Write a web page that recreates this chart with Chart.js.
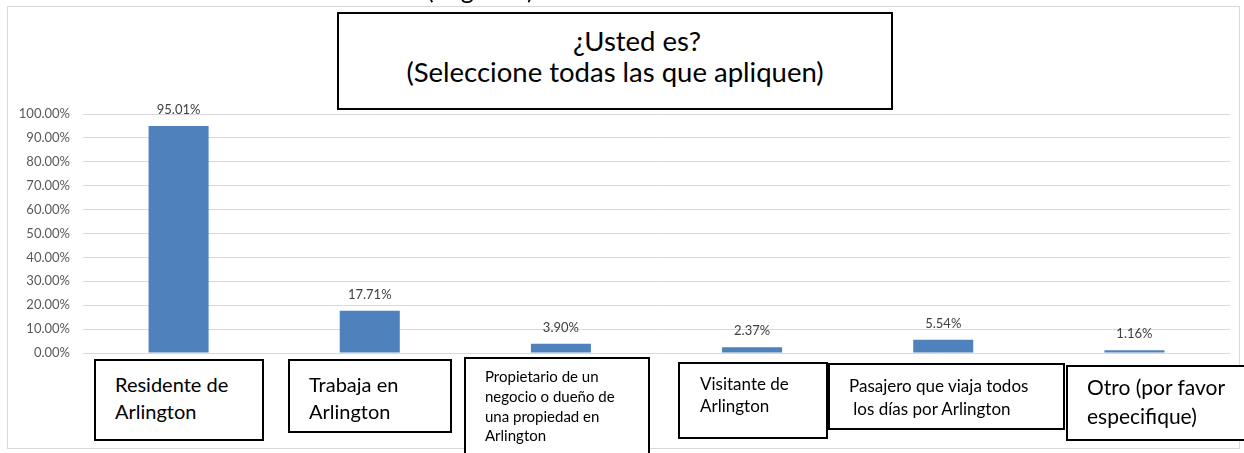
<!DOCTYPE html>
<html>
<head>
<meta charset="utf-8">
<script src="https://cdn.jsdelivr.net/npm/chart.js@4.4.1/dist/chart.umd.min.js"></script>
<style>
    body { margin: 0; background: #ffffff; font-family: Lato, "Liberation Sans", sans-serif; }
    #wrap { position: relative; width: 1244px; height: 453px; overflow: hidden; background: #ffffff; }
    #frame { position: absolute; left: 7px; top: 6px; width: 1233px; height: 443px; border: 1px solid #d9d9d9; box-sizing: border-box; }
    #chart { position: absolute; left: 0; top: 0; }
    .box { position: absolute; box-sizing: border-box; border: 2px solid #000000; background: #ffffff; color: #000000; white-space: pre; }
    #pagetext { position: absolute; left: 427px; top: -26px; font-size: 25px; line-height: 30px; color: #000000; white-space: pre; }
</style>
</head>
<body>
<div id="wrap">
    <div id="frame"></div>
    <canvas id="chart" width="1244" height="453"></canvas>
    <div id="pagetext">(Página 1)</div>
    <div id="boxes"></div>
</div>
<script>
// chart data
const categories = [
    ["Residente de", "Arlington"],
    ["Trabaja en", "Arlington"],
    ["Propietario de un", "negocio o dueño de", "una propiedad en", "Arlington"],
    ["Visitante de", "Arlington"],
    ["Pasajero que viaja todos", " los días por Arlington"],
    ["Otro (por favor", "especifique)"]
];
const values = [95.01, 17.71, 3.90, 2.37, 5.54, 1.16];
const yTicks = [0, 10, 20, 30, 40, 50, 60, 70, 80, 90, 100];
const titleLines = ["¿Usted es?", "(Seleccione todas las que apliquen)"];

// boxes: x, y, w, h, font size, line height, text x, first baseline
const boxLayout = [
    [94, 359, 170, 82, 20, 27, 115, 392],
    [288, 359, 164, 74, 20, 27, 309, 392],
    [464, 357, 186, 100, 15, 19.7, 485, 383],
    [678, 362, 150, 77, 17, 22, 700, 391],
    [828, 363, 237, 67, 17, 23, 849, 392],
    [1066, 365, 180, 76, 21, 29, 1087, 395]
];

function placeBox(el, x, y, w, h, fs, lh, tx, base) {
    // Lato: ascent .987em, content height 1.2em
    const padTop = base - y - 2 - ((lh - 1.2 * fs) / 2 + 0.987 * fs);
    el.style.left = x + "px";
    el.style.top = y + "px";
    el.style.width = w + "px";
    el.style.height = h + "px";
    el.style.fontSize = fs + "px";
    el.style.lineHeight = lh + "px";
    el.style.paddingLeft = (tx - x - 2) + "px";
    el.style.paddingTop = padTop + "px";
}

const boxes = document.getElementById("boxes");
categories.forEach(function (lines, i) {
    const b = document.createElement("div");
    b.className = "box";
    b.textContent = lines.join("\n");
    const l = boxLayout[i];
    placeBox(b, l[0], l[1], l[2], l[3], l[4], l[5], l[6], l[7]);
    boxes.appendChild(b);
});

// title box
const title = document.createElement("div");
title.className = "box";
title.style.textAlign = "center";
title.innerHTML = '<span style="position:relative;left:22px">' + titleLines[0] + '</span>\n' + titleLines[1];
placeBox(title, 337, 12, 556, 98, 27.5, 31, 339, 51);
title.style.paddingLeft = "0px";
boxes.appendChild(title);

// value labels above bars
const barLabels = {
    id: "barLabels",
    afterDatasetsDraw(chart) {
        const ctx = chart.ctx;
        const meta = chart.getDatasetMeta(0);
        ctx.save();
        ctx.font = "13px Lato";
        ctx.fillStyle = "#404040";
        ctx.textAlign = "center";
        ctx.textBaseline = "alphabetic";
        meta.data.forEach(function (bar, i) {
            ctx.fillText(values[i].toFixed(2) + "%", bar.x, bar.y - 12);
        });
        ctx.restore();
    }
};

new Chart(document.getElementById("chart").getContext("2d"), {
    type: "bar",
    data: {
        labels: categories.map(c => c.join(" ")),
        datasets: [{
            data: values,
            backgroundColor: "#4f81bd",
            borderWidth: 0,
            barPercentage: 0.314,
            categoryPercentage: 1
        }]
    },
    options: {
        responsive: false,
        animation: false,
        devicePixelRatio: 1,
        layout: { padding: { left: 0, right: 14, top: 114, bottom: 100 } },
        plugins: { legend: { display: false }, tooltip: { enabled: false } },
        scales: {
            x: { display: false },
            y: {
                min: 0,
                max: 100,
                afterFit(scale) { scale.width = 83; },
                afterBuildTicks(scale) { scale.ticks = yTicks.map(v => ({ value: v })); },
                border: { display: false },
                grid: { color: "#d9d9d9", lineWidth: 1, drawTicks: false },
                ticks: {
                    padding: 13,
                    color: "#595959",
                    font: { family: "Lato", size: 13 },
                    callback: (v) => v.toFixed(2) + "%"
                }
            }
        }
    },
    plugins: [barLabels]
});
</script>
</body>
</html>
